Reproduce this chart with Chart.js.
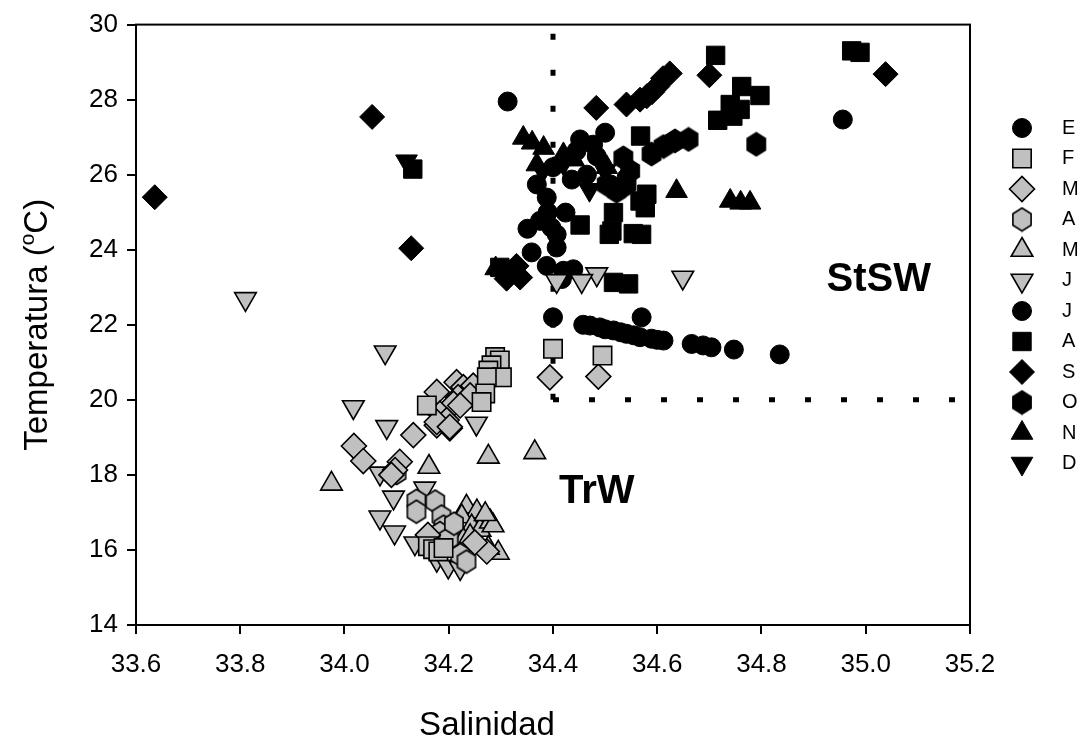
<!DOCTYPE html>
<html>
<head>
<meta charset="utf-8">
<script src="https://cdn.jsdelivr.net/npm/chart.js@4"></script>
<style>
  html, body { margin: 0; padding: 0; background: #fff; }
  #wrap { width: 1083px; height: 752px; }
</style>
</head>
<body>
<div id="wrap"><canvas id="myChart" width="1083" height="752"></canvas></div>
<script>
// meses (etiquetas de la leyenda)
const meses = ['E', 'F', 'M', 'A', 'M', 'J', 'J', 'A', 'S', 'O', 'N', 'D'];

// [salinidad, temperatura] por mes
const ene = [[34.313,27.95],[34.452,26.94],[34.477,26.80],[34.445,26.63],[34.484,26.49],[34.500,27.12],[34.465,26.00],[34.436,25.87],[34.369,25.74],[34.388,25.39],[34.510,25.74],[34.541,25.92],[34.516,25.65],[34.424,24.99],[34.956,27.47],[34.400,26.20],[34.390,25.00]];
const feb = [[34.289,21.14],[34.298,21.05],[34.282,20.92],[34.276,20.78],[34.302,20.60],[34.273,20.60],[34.270,20.17],[34.158,19.85],[34.263,19.94],[34.400,21.36],[34.495,21.18],[34.160,16.10],[34.170,16.02],[34.180,15.96],[34.190,16.05]];
const mar = [[34.394,20.60],[34.487,20.62],[34.177,20.21],[34.215,20.47],[34.228,20.34],[34.247,20.38],[34.218,20.07],[34.241,20.12],[34.209,19.90],[34.222,19.85],[34.183,19.63],[34.196,19.46],[34.177,19.32],[34.202,19.24],[34.132,19.06],[34.018,18.77],[34.036,18.37],[34.106,18.35],[34.097,18.13],[34.090,18.00],[34.177,19.41],[34.202,19.28],[34.160,16.40],[34.273,15.96],[34.250,16.20]];
const abr = [[34.138,17.31],[34.174,17.29],[34.138,17.02],[34.186,16.89],[34.190,16.62],[34.183,16.45],[34.196,16.09],[34.222,15.87],[34.234,15.69],[34.100,18.05],[34.200,16.30],[34.210,16.70]];
const may = [[33.975,17.76],[34.162,18.21],[34.276,18.48],[34.365,18.60],[34.234,17.15],[34.254,17.02],[34.225,16.89],[34.266,16.80],[34.244,16.62],[34.260,16.53],[34.228,16.27],[34.295,15.92],[34.276,16.05],[34.241,16.36],[34.280,16.75],[34.285,16.65],[34.270,16.95]];
const jun = [[33.810,22.69],[34.078,21.27],[34.017,19.81],[34.081,19.28],[34.253,19.37],[34.068,18.04],[34.094,17.40],[34.154,17.64],[34.068,16.87],[34.096,16.47],[34.135,16.18],[34.201,16.56],[34.177,15.74],[34.199,15.56],[34.222,15.52],[34.484,23.35],[34.455,23.17],[34.649,23.26],[34.407,23.17]];
const jul = [[34.351,24.56],[34.375,24.77],[34.397,24.59],[34.407,24.41],[34.407,24.06],[34.359,23.93],[34.388,23.57],[34.420,23.44],[34.439,23.48],[34.417,23.22],[34.400,22.20],[34.458,22.00],[34.471,21.98],[34.490,21.93],[34.516,21.85],[34.541,21.76],[34.567,21.67],[34.589,21.63],[34.612,21.58],[34.666,21.49],[34.688,21.45],[34.704,21.40],[34.747,21.34],[34.835,21.21],[34.570,22.20],[34.500,21.88],[34.530,21.80],[34.555,21.72],[34.600,21.60]];
const ago = [[34.712,29.18],[34.973,29.30],[34.989,29.26],[34.762,28.35],[34.797,28.11],[34.740,27.87],[34.759,27.74],[34.716,27.45],[34.745,27.56],[34.131,26.15],[34.568,27.03],[34.452,24.66],[34.516,24.99],[34.513,24.50],[34.508,24.41],[34.554,24.43],[34.570,24.41],[34.580,25.48],[34.577,25.12],[34.567,25.30],[34.516,23.13],[34.545,23.09],[34.298,23.53],[34.300,20.60]];
const sep = [[33.636,25.40],[34.053,27.54],[34.128,24.04],[34.483,27.78],[34.541,27.87],[34.567,28.00],[34.580,28.09],[34.600,28.35],[34.611,28.57],[34.624,28.70],[34.700,28.65],[35.038,28.68],[34.311,23.23],[34.330,23.57],[34.337,23.26],[34.590,28.20]];
const oct = [[34.589,26.55],[34.612,26.75],[34.634,26.90],[34.660,26.94],[34.790,26.81],[34.535,26.45],[34.548,26.10],[34.541,25.74],[34.522,25.56],[34.503,25.74]];
const nov = [[34.343,26.98],[34.360,26.85],[34.382,26.71],[34.420,26.54],[34.369,26.27],[34.440,26.40],[34.503,26.20],[34.637,25.56],[34.740,25.30],[34.760,25.25],[34.778,25.25],[34.290,23.50]];
const dic = [[34.119,26.36],[34.380,26.10],[34.420,26.30],[34.500,26.10],[34.470,25.60]];

// lineas de separacion de masas de agua
const lineaVertical = [[34.4, 20], [34.4, 30]];
const lineaHorizontal = [[34.4, 20], [35.2, 20]];

const xTicks = [33.6, 33.8, 34.0, 34.2, 34.4, 34.6, 34.8, 35.0, 35.2];
const yTicks = [14, 16, 18, 20, 22, 24, 26, 28, 30];

const GRIS = '#c0c0c0';
const NEGRO = '#000000';
const FUENTE = '"Liberation Sans", Arial, sans-serif';

function hexagono(fill) {
  const c = document.createElement('canvas');
  c.width = 24; c.height = 26;
  const g = c.getContext('2d');
  g.beginPath();
  for (let i = 0; i < 6; i++) {
    const a = Math.PI / 3 * i - Math.PI / 2;
    const px = 12 + 10.5 * Math.cos(a), py = 13 + 11.5 * Math.sin(a);
    if (i === 0) g.moveTo(px, py); else g.lineTo(px, py);
  }
  g.closePath();
  g.fillStyle = fill;
  g.fill();
  g.lineWidth = 1.6;
  g.strokeStyle = '#000';
  g.stroke();
  return c;
}

const estilos = [
  { s: 'circle', r: 9.5, rot: 0 },
  { s: 'rect', r: 13, rot: 0 },
  { s: 'rectRot', r: 12.5, rot: 0 },
  { s: hexagono(GRIS), r: 11, rot: 0 },
  { s: 'triangle', r: 12.5, rot: 0 },
  { s: 'triangle', r: 12.5, rot: 180 },
  { s: 'circle', r: 9.5, rot: 0 },
  { s: 'rect', r: 13, rot: 0 },
  { s: 'rectRot', r: 12.5, rot: 0 },
  { s: hexagono(NEGRO), r: 11, rot: 0 },
  { s: 'triangle', r: 12.5, rot: 0 },
  { s: 'triangle', r: 12.5, rot: 180 }
];
const series = [ene, feb, mar, abr, may, jun, jul, ago, sep, oct, nov, dic];
const rellenos = [NEGRO, GRIS, GRIS, GRIS, GRIS, GRIS, NEGRO, NEGRO, NEGRO, NEGRO, NEGRO, NEGRO];

const toXY = arr => arr.map(p => ({ x: p[0], y: p[1] }));

const datasets = series.map((d, i) => ({
  label: meses[i],
  data: toXY(d),
  pointStyle: estilos[i].s,
  pointRadius: estilos[i].r,
  pointHoverRadius: estilos[i].r,
  pointRotation: estilos[i].rot,
  backgroundColor: rellenos[i],
  borderColor: '#000',
  borderWidth: rellenos[i] === GRIS ? 1.6 : 1
}));

[lineaVertical, lineaHorizontal].forEach(l => {
  datasets.push({
    label: '',
    data: toXY(l),
    showLine: true,
    borderColor: '#000',
    borderWidth: 5,
    borderDash: [6, 30],
    borderCapStyle: 'butt',
    pointRadius: 0,
    fill: false,
    esLinea: true
  });
});

const extras = {
  id: 'extras',
  afterDraw(chart) {
    const { ctx, chartArea: a, scales: { x, y } } = chart;
    ctx.save();
    // marco
    ctx.strokeStyle = '#000';
    ctx.lineWidth = 2;
    ctx.strokeRect(a.left, a.top, a.right - a.left, a.bottom - a.top);

    // titulos de ejes
    ctx.fillStyle = '#000';
    ctx.font = '33px ' + FUENTE;
    ctx.textAlign = 'center';
    ctx.textBaseline = 'alphabetic';
    ctx.fillText('Salinidad', 487, 735);

    ctx.save();
    ctx.translate(47, (a.top + a.bottom) / 2);
    ctx.rotate(-Math.PI / 2);
    const t1 = 'Temperatura (', t2 = 'o', t3 = 'C)';
    ctx.font = '33px ' + FUENTE;
    const w1 = ctx.measureText(t1).width, w3 = ctx.measureText(t3).width;
    ctx.font = '21px ' + FUENTE;
    const w2 = ctx.measureText(t2).width;
    let sx = -(w1 + w2 + w3) / 2;
    ctx.textAlign = 'left';
    ctx.font = '33px ' + FUENTE;
    ctx.fillText(t1, sx, 0);
    ctx.font = '21px ' + FUENTE;
    ctx.fillText(t2, sx + w1, -13);
    ctx.font = '33px ' + FUENTE;
    ctx.fillText(t3, sx + w1 + w2, 0);
    ctx.restore();

    // etiquetas de masas de agua
    ctx.font = 'bold 40px ' + FUENTE;
    ctx.textAlign = 'center';
    ctx.fillText('StSW', x.getPixelForValue(35.025), y.getPixelForValue(22.91));
    ctx.fillText('TrW', x.getPixelForValue(34.484), y.getPixelForValue(17.25));

    // leyenda
    const lx = 1022, tx = 1062, y0 = 128, dy = 30.5;
    ctx.font = '20px ' + FUENTE;
    ctx.textAlign = 'left';
    ctx.textBaseline = 'middle';
    chart.data.datasets.forEach((ds, i) => {
      if (ds.esLinea) return;
      const yy = y0 + i * dy;
      ctx.fillStyle = ds.backgroundColor;
      ctx.strokeStyle = '#000';
      ctx.lineWidth = ds.borderWidth;
      Chart.helpers.drawPoint(ctx, {
        pointStyle: ds.pointStyle,
        rotation: ds.pointRotation,
        radius: ds.pointRadius,
        borderWidth: ds.borderWidth
      }, lx, yy);
      ctx.fillStyle = '#000';
      ctx.fillText(ds.label, tx, yy);
    });
    ctx.restore();
  }
};

const ctx = document.getElementById('myChart');

const myChart = new Chart(ctx, {
  type: 'scatter',
  data: { datasets: datasets },
  options: {
    responsive: false,
    animation: false,
    events: [],
    layout: { padding: { top: 23, right: 113, left: 0, bottom: 0 } },
    plugins: {
      legend: { display: false },
      tooltip: { enabled: false }
    },
    scales: {
      x: {
        type: 'linear',
        min: 33.6,
        max: 35.2,
        afterFit: s => { s.height = 127; },
        afterBuildTicks: s => { s.ticks = xTicks.map(v => ({ value: v })); },
        grid: { drawOnChartArea: false, color: '#000', lineWidth: 2, tickLength: 9 },
        border: { display: false },
        ticks: {
          color: '#000',
          padding: 15,
          maxRotation: 0,
          font: { size: 26, family: FUENTE },
          callback: v => v.toFixed(1)
        },
        title: { display: false }
      },
      y: {
        type: 'linear',
        min: 14,
        max: 30,
        afterFit: s => { s.width = 136; },
        afterBuildTicks: s => { s.ticks = yTicks.map(v => ({ value: v })); },
        grid: { drawOnChartArea: false, color: '#000', lineWidth: 2, tickLength: 9 },
        border: { display: false },
        ticks: {
          color: '#000',
          padding: 9,
          font: { size: 26, family: FUENTE },
          callback: v => String(v)
        },
        title: { display: false }
      }
    }
  },
  plugins: [extras]
});
</script>
</body>
</html>
